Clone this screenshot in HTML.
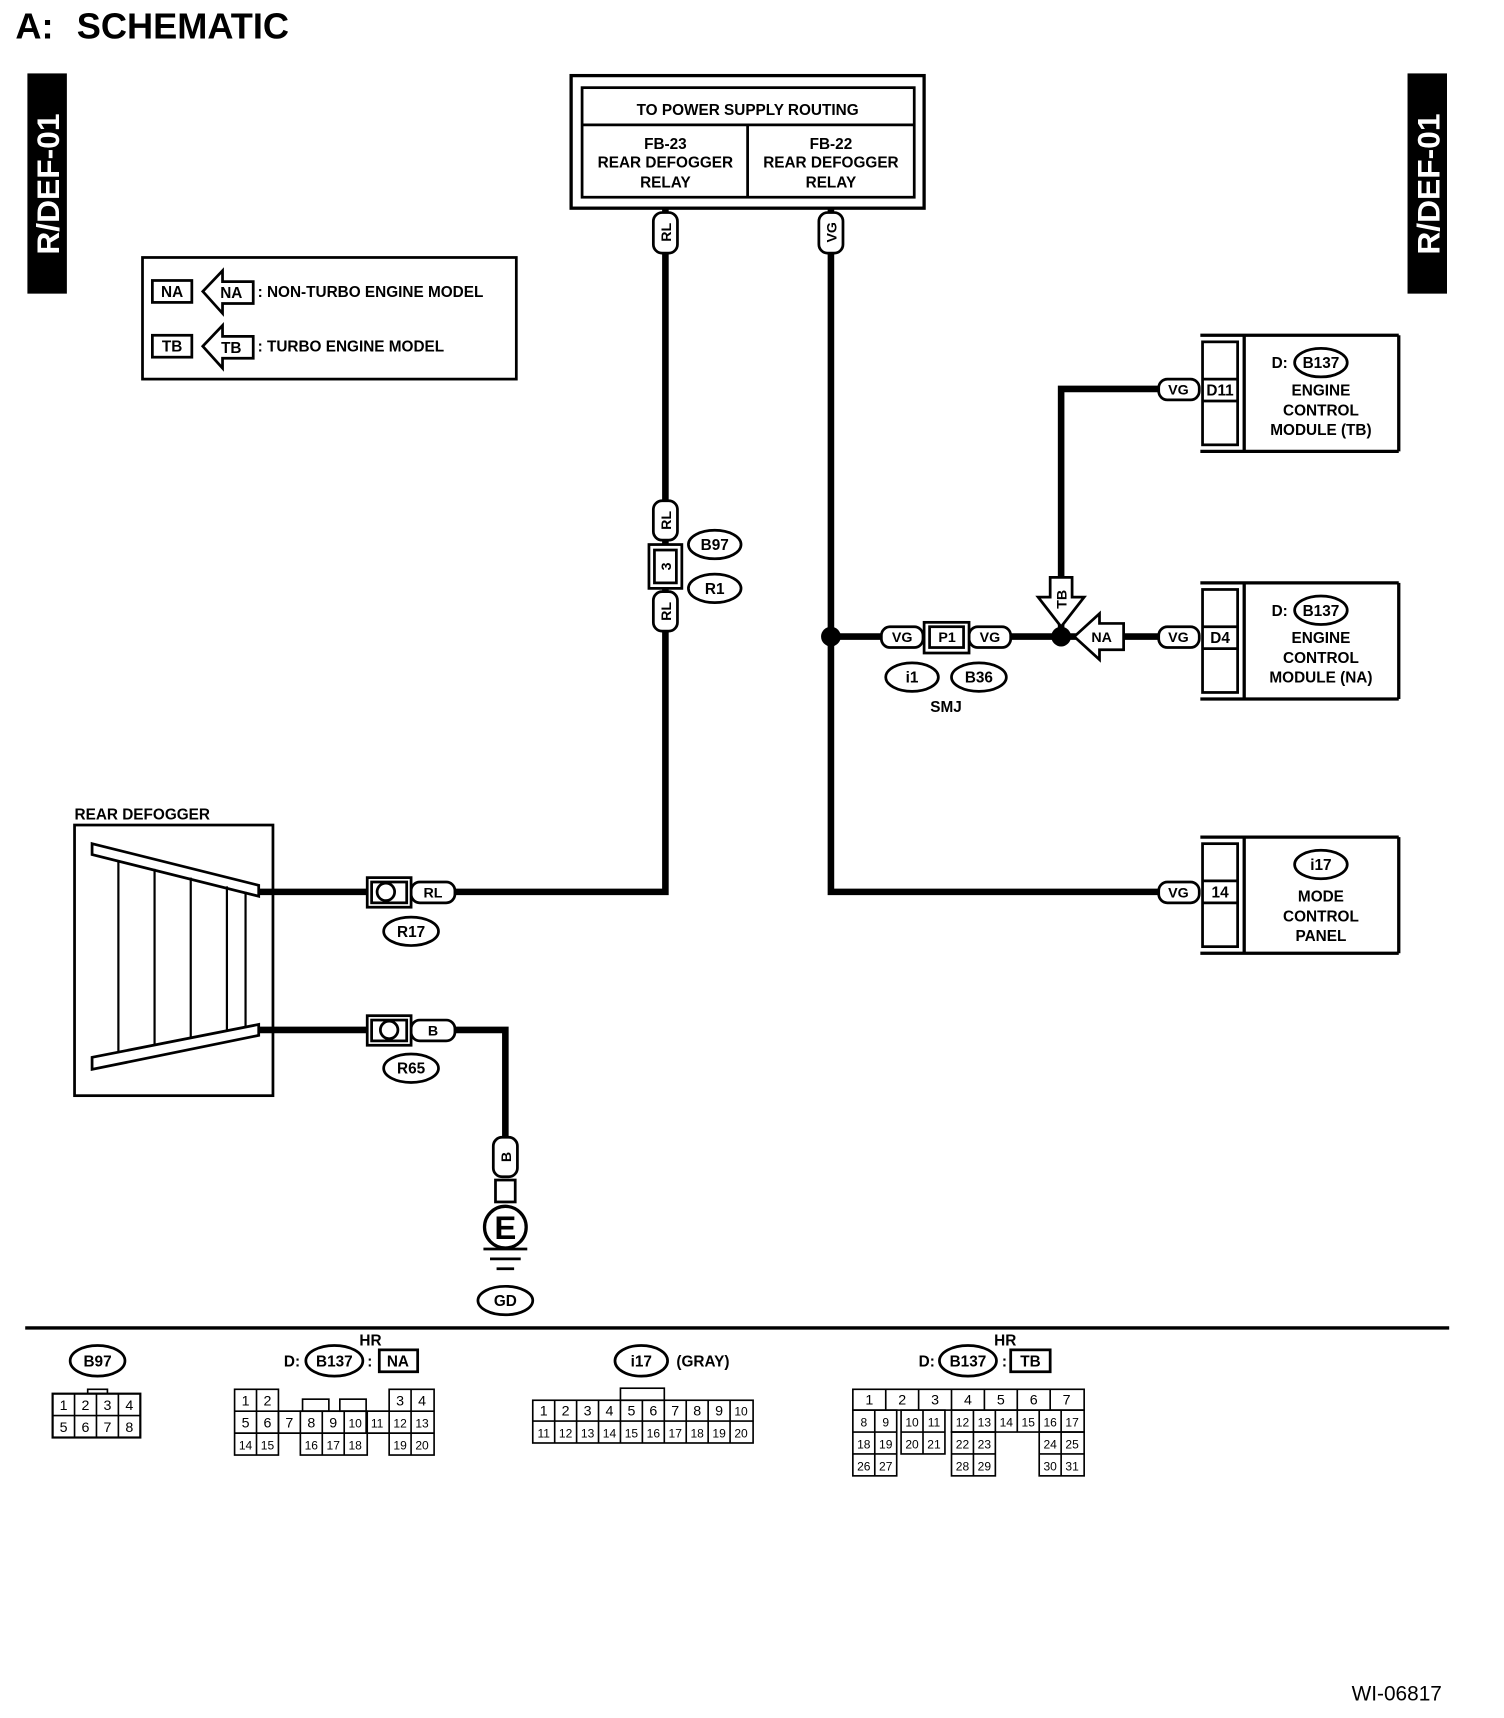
<!DOCTYPE html>
<html><head><style>html,body{margin:0;padding:0;background:#fff}svg{display:block}</style></head>
<body>
<svg xmlns="http://www.w3.org/2000/svg" width="1504" height="1718" viewBox="0 0 1372 1568" preserveAspectRatio="none" font-family="Liberation Sans, Arial, sans-serif" font-weight="bold">
<g fill="none" stroke="#000">
<polyline points="607,190 607,814 415,814" stroke-width="6"/>
<polyline points="758,190 758,814 1057,814" stroke-width="6"/>
<line x1="758" y1="581" x2="1057" y2="581" stroke-width="6"/>
<polyline points="968,581 968,355 1057,355" stroke-width="6"/>
<line x1="236" y1="814" x2="335" y2="814" stroke-width="6"/>
<polyline points="236,940 335,940" stroke-width="6"/>
<polyline points="415,940 461,940 461,1040" stroke-width="6"/>
<line x1="23" y1="1212" x2="1322" y2="1212" stroke-width="3"/>
</g>
<text x="14" y="35" font-size="33">A:</text>
<text x="70" y="35" font-size="33">SCHEMATIC</text>
<rect x="25" y="67" width="36" height="201" fill="#000"/>
<text transform="translate(54,168) rotate(-90)" fill="#fff" font-size="29" text-anchor="middle">R/DEF-01</text>
<rect x="1284" y="67" width="36" height="201" fill="#000"/>
<text transform="translate(1313,168) rotate(-90)" fill="#fff" font-size="29" text-anchor="middle">R/DEF-01</text>

<g fill="none" stroke="#000" stroke-width="2.5">
<rect x="521" y="69" width="322" height="121" stroke-width="3"/>
<rect x="531" y="80" width="303" height="100"/>
<line x1="531" y1="114" x2="834" y2="114"/>
<line x1="682" y1="114" x2="682" y2="180"/>
<rect x="130" y="235" width="341" height="111"/>
<rect x="139" y="256" width="36" height="20"/>
<rect x="139" y="306" width="36" height="20"/>
<path d="M185,266 L203,247 L203,257 L231,257 L231,277 L203,277 L203,286 Z"/>
<path d="M185,316 L203,297 L203,307 L231,307 L231,327 L203,327 L203,336 Z"/>
</g>
<g font-size="14" text-anchor="middle">
<text x="682" y="105">TO POWER SUPPLY ROUTING</text>
<text x="607" y="136">FB-23</text><text x="607" y="153">REAR DEFOGGER</text><text x="607" y="171">RELAY</text>
<text x="758" y="136">FB-22</text><text x="758" y="153">REAR DEFOGGER</text><text x="758" y="171">RELAY</text>
<text x="157" y="271">NA</text><text x="211" y="272">NA</text>
<text x="157" y="321">TB</text><text x="211" y="322">TB</text>
</g>
<g font-size="14">
<text x="235" y="271">: NON-TURBO ENGINE MODEL</text>
<text x="235" y="321">: TURBO ENGINE MODEL</text>
<text x="68" y="748">REAR DEFOGGER</text>
</g>

<g fill="#fff" stroke="#000" stroke-width="2.5">
<rect x="596" y="194" width="22" height="37" rx="8"/>
<rect x="747" y="194" width="22" height="37" rx="8"/>
<rect x="596" y="457" width="22" height="36" rx="8"/>
<rect x="596" y="540" width="22" height="36" rx="8"/>
<rect x="592" y="497" width="30" height="40"/>
<rect x="597" y="502" width="20" height="30"/>
<rect x="450" y="1038" width="22" height="36" rx="8"/>
<rect x="452" y="1077" width="18" height="20"/>
<circle cx="461" cy="1120" r="19" stroke-width="3"/>
</g>
<g font-size="13" text-anchor="middle">
<text transform="translate(612,212) rotate(-90)">RL</text>
<text transform="translate(763,212) rotate(-90)">VG</text>
<text transform="translate(612,475) rotate(-90)">RL</text>
<text transform="translate(612,558) rotate(-90)">RL</text>
<text transform="translate(612,517) rotate(-90)">3</text>
<text transform="translate(466,1056) rotate(-90)">B</text>
</g>
<text x="461" y="1131" font-size="30" text-anchor="middle">E</text>
<g stroke="#000" stroke-width="2.5">
<line x1="441" y1="1140" x2="481" y2="1140"/>
<line x1="447" y1="1149" x2="475" y2="1149"/>
<line x1="453" y1="1158" x2="469" y2="1158"/>
</g>

<g fill="#fff" stroke="#000" stroke-width="2.5">
<ellipse cx="652" cy="497" rx="24" ry="13"/>
<ellipse cx="652" cy="537" rx="24" ry="13"/>
<ellipse cx="832" cy="618" rx="24" ry="13"/>
<ellipse cx="893" cy="618" rx="25" ry="13"/>
<ellipse cx="375" cy="850" rx="25" ry="13"/>
<ellipse cx="375" cy="975" rx="25" ry="13"/>
<ellipse cx="461" cy="1187" rx="25" ry="13"/>
<ellipse cx="1205" cy="331" rx="24" ry="13"/>
<ellipse cx="1205" cy="557" rx="24" ry="13"/>
<ellipse cx="1205" cy="789" rx="24" ry="13"/>
<ellipse cx="89" cy="1242" rx="25" ry="14"/>
<ellipse cx="305" cy="1242" rx="26" ry="14"/>
<ellipse cx="585" cy="1242" rx="24" ry="14"/>
<ellipse cx="883" cy="1242" rx="26" ry="14"/>
<rect x="346" y="1232" width="35" height="20"/>
<rect x="922" y="1232" width="36" height="20"/>
</g>
<g font-size="14" text-anchor="middle">
<text x="652" y="502">B97</text><text x="652" y="542">R1</text>
<text x="832" y="623">i1</text><text x="893" y="623">B36</text>
<text x="863" y="650">SMJ</text>
<text x="375" y="855">R17</text><text x="375" y="980">R65</text>
<text x="461" y="1192">GD</text>
<text x="1205" y="336">B137</text><text x="1205" y="562">B137</text><text x="1205" y="794">i17</text>
<text x="89" y="1247">B97</text><text x="305" y="1247">B137</text><text x="585" y="1247">i17</text><text x="883" y="1247">B137</text>
<text x="363" y="1247">NA</text><text x="940" y="1247">TB</text>
<text x="338" y="1228">HR</text><text x="917" y="1228">HR</text>
</g>
<g font-size="14">
<text x="259" y="1247">D:</text><text x="335" y="1247">:</text>
<text x="838" y="1247">D:</text><text x="914" y="1247">:</text>
<text x="617" y="1247">(GRAY)</text>
<text x="1160" y="336">D:</text><text x="1160" y="562">D:</text>
<text x="1233" y="1552" font-weight="normal" font-size="19">WI-06817</text>
</g>

<g fill="#fff" stroke="#000" stroke-width="2.5">
<rect x="804" y="572" width="38" height="19" rx="8"/>
<rect x="884" y="572" width="38" height="19" rx="8"/>
<rect x="843" y="568" width="41" height="28"/>
<rect x="848" y="572" width="31" height="19"/>
<rect x="1057" y="346" width="37" height="19" rx="8"/>
<rect x="1057" y="572" width="37" height="19" rx="8"/>
<rect x="1057" y="805" width="37" height="19" rx="8"/>
<rect x="375" y="805" width="40" height="19" rx="8"/>
<rect x="375" y="931" width="40" height="19" rx="8"/>
<rect x="335" y="801" width="40" height="27"/>
<rect x="339" y="805" width="32" height="19"/>
<circle cx="352" cy="814" r="8"/>
<rect x="335" y="927" width="40" height="27"/>
<rect x="339" y="931" width="32" height="19"/>
<circle cx="355" cy="940" r="8"/>
</g>
<circle cx="758" cy="581" r="9"/>
<circle cx="968" cy="581" r="9"/>
<g fill="#fff" stroke="#000" stroke-width="2.5">
<path d="M958,527 L978,527 L978,545 L989,545 L968,572 L947,545 L958,545 Z"/>
<path d="M980,581 L1003,560 L1003,569 L1025,569 L1025,593 L1003,593 L1003,602 Z"/>
</g>
<g font-size="13" text-anchor="middle">
<text x="823" y="586">VG</text><text x="903" y="586">VG</text><text x="864" y="586">P1</text>
<text x="1075" y="360">VG</text><text x="1075" y="586">VG</text><text x="1075" y="819">VG</text>
<text x="395" y="819">RL</text><text x="395" y="945">B</text>
<text x="1005" y="586">NA</text>
<text transform="translate(973,547) rotate(-90)">TB</text>
</g>

<g fill="none" stroke="#000" stroke-width="2.5">
<g id="m1">
<line x1="1095" y1="306" x2="1276" y2="306" stroke-width="3"/>
<line x1="1095" y1="412" x2="1276" y2="412" stroke-width="3"/>
<line x1="1276" y1="306" x2="1276" y2="412" stroke-width="3"/>
<line x1="1135" y1="306" x2="1135" y2="412" stroke-width="3"/>
<rect x="1097" y="312" width="32" height="94"/>
<line x1="1097" y1="346" x2="1129" y2="346"/>
<line x1="1097" y1="366" x2="1129" y2="366"/>
</g>
<use href="#m1" y="226"/>
<use href="#m1" y="458"/>
</g>
<g font-size="14" text-anchor="middle">
<text x="1113" y="361">D11</text><text x="1113" y="587">D4</text><text x="1113" y="819">14</text>
<text x="1205" y="361">ENGINE</text><text x="1205" y="379">CONTROL</text><text x="1205" y="397">MODULE (TB)</text>
<text x="1205" y="587">ENGINE</text><text x="1205" y="605">CONTROL</text><text x="1205" y="623">MODULE (NA)</text>
<text x="1205" y="823">MODE</text><text x="1205" y="841">CONTROL</text><text x="1205" y="859">PANEL</text>
</g>

<g fill="none" stroke="#000" stroke-width="2.5">
<rect x="68" y="753" width="181" height="247"/>
<path d="M84,770 L236,808 L236,818 L84,780 Z" fill="#fff"/>
<path d="M84,965 L236,935 L236,945 L84,976 Z" fill="#fff"/>
<g stroke-width="2">
<line x1="108" y1="785" x2="108" y2="961"/>
<line x1="141" y1="793" x2="141" y2="954"/>
<line x1="174" y1="801" x2="174" y2="948"/>
<line x1="207" y1="809" x2="207" y2="941"/>
<line x1="224" y1="814" x2="224" y2="938"/>
</g>
</g>

<g fill="none" stroke="#000" stroke-width="1.5">
<rect x="48" y="1272" width="80" height="40" stroke-width="2"/>
<line x1="48" y1="1292" x2="128" y2="1292"/>
<line x1="68" y1="1272" x2="68" y2="1312"/><line x1="88" y1="1272" x2="88" y2="1312"/><line x1="108" y1="1272" x2="108" y2="1312"/>
<rect x="80" y="1268" width="18" height="4"/>
<rect x="214" y="1268" width="40" height="60"/>
<line x1="214" y1="1288" x2="396" y2="1288"/><line x1="214" y1="1308" x2="396" y2="1308"/>
<line x1="234" y1="1268" x2="234" y2="1328"/>
<line x1="254" y1="1288" x2="254" y2="1308"/>
<rect x="355" y="1268" width="41" height="60"/>
<line x1="375" y1="1268" x2="375" y2="1328"/>
<line x1="254" y1="1288" x2="355" y2="1288"/>
<rect x="274" y="1288" width="61" height="40"/>
<line x1="294" y1="1288" x2="294" y2="1328"/><line x1="314" y1="1288" x2="314" y2="1328"/>
<line x1="334" y1="1288" x2="334" y2="1308"/>
<rect x="276" y="1277" width="24" height="11"/><rect x="310" y="1277" width="24" height="11"/>
<rect x="486" y="1278" width="201" height="39"/>
<line x1="486" y1="1297" x2="687" y2="1297"/>
<line x1="506" y1="1278" x2="506" y2="1317"/><line x1="526" y1="1278" x2="526" y2="1317"/><line x1="546" y1="1278" x2="546" y2="1317"/><line x1="566" y1="1278" x2="566" y2="1317"/><line x1="586" y1="1278" x2="586" y2="1317"/><line x1="606" y1="1278" x2="606" y2="1317"/><line x1="626" y1="1278" x2="626" y2="1317"/><line x1="646" y1="1278" x2="646" y2="1317"/><line x1="666" y1="1278" x2="666" y2="1317"/>
<rect x="566" y="1267" width="40" height="11"/>
<rect x="778" y="1268" width="211" height="19"/>
<line x1="808" y1="1268" x2="808" y2="1287"/><line x1="838" y1="1268" x2="838" y2="1287"/><line x1="868" y1="1268" x2="868" y2="1287"/><line x1="898" y1="1268" x2="898" y2="1287"/><line x1="928" y1="1268" x2="928" y2="1287"/><line x1="958" y1="1268" x2="958" y2="1287"/>
<rect x="778" y="1287" width="40" height="60"/><line x1="798" y1="1287" x2="798" y2="1347"/><line x1="778" y1="1307" x2="818" y2="1307"/><line x1="778" y1="1327" x2="818" y2="1327"/>
<rect x="822" y="1287" width="40" height="40"/><line x1="842" y1="1287" x2="842" y2="1327"/><line x1="822" y1="1307" x2="862" y2="1307"/>
<rect x="868" y="1287" width="121" height="20"/>
<line x1="888" y1="1287" x2="888" y2="1307"/><line x1="908" y1="1287" x2="908" y2="1307"/><line x1="928" y1="1287" x2="928" y2="1307"/><line x1="948" y1="1287" x2="948" y2="1307"/><line x1="968" y1="1287" x2="968" y2="1307"/>
<rect x="868" y="1307" width="40" height="40"/><line x1="888" y1="1307" x2="888" y2="1347"/><line x1="868" y1="1327" x2="908" y2="1327"/>
<rect x="948" y="1307" width="41" height="40"/><line x1="968" y1="1307" x2="968" y2="1347"/><line x1="948" y1="1327" x2="989" y2="1327"/>
</g>
<g font-size="13" font-weight="normal" text-anchor="middle">
<text x="58" y="1287">1</text><text x="78" y="1287">2</text><text x="98" y="1287">3</text><text x="118" y="1287">4</text>
<text x="58" y="1307">5</text><text x="78" y="1307">6</text><text x="98" y="1307">7</text><text x="118" y="1307">8</text>
<text x="224" y="1283">1</text><text x="244" y="1283">2</text><text x="365" y="1283">3</text><text x="385" y="1283">4</text>
<text x="224" y="1303">5</text><text x="244" y="1303">6</text><text x="264" y="1303">7</text><text x="284" y="1303">8</text><text x="304" y="1303">9</text><text x="324" y="1303" font-size="11">10</text><text x="344" y="1303" font-size="11">11</text><text x="365" y="1303" font-size="11">12</text><text x="385" y="1303" font-size="11">13</text>
<g font-size="11"><text x="224" y="1323">14</text><text x="244" y="1323">15</text><text x="284" y="1323">16</text><text x="304" y="1323">17</text><text x="324" y="1323">18</text><text x="365" y="1323">19</text><text x="385" y="1323">20</text></g>
<text x="496" y="1292">1</text><text x="516" y="1292">2</text><text x="536" y="1292">3</text><text x="556" y="1292">4</text><text x="576" y="1292">5</text><text x="596" y="1292">6</text><text x="616" y="1292">7</text><text x="636" y="1292">8</text><text x="656" y="1292">9</text><text x="676" y="1292" font-size="11">10</text>
<g font-size="11"><text x="496" y="1312">11</text><text x="516" y="1312">12</text><text x="536" y="1312">13</text><text x="556" y="1312">14</text><text x="576" y="1312">15</text><text x="596" y="1312">16</text><text x="616" y="1312">17</text><text x="636" y="1312">18</text><text x="656" y="1312">19</text><text x="676" y="1312">20</text></g>
<text x="793" y="1282">1</text><text x="823" y="1282">2</text><text x="853" y="1282">3</text><text x="883" y="1282">4</text><text x="913" y="1282">5</text><text x="943" y="1282">6</text><text x="973" y="1282">7</text>
<g font-size="11"><text x="788" y="1302">8</text><text x="808" y="1302">9</text><text x="832" y="1302">10</text><text x="852" y="1302">11</text><text x="878" y="1302">12</text><text x="898" y="1302">13</text><text x="918" y="1302">14</text><text x="938" y="1302">15</text><text x="958" y="1302">16</text><text x="978" y="1302">17</text>
<text x="788" y="1322">18</text><text x="808" y="1322">19</text><text x="832" y="1322">20</text><text x="852" y="1322">21</text><text x="878" y="1322">22</text><text x="898" y="1322">23</text><text x="958" y="1322">24</text><text x="978" y="1322">25</text>
<text x="788" y="1342">26</text><text x="808" y="1342">27</text><text x="878" y="1342">28</text><text x="898" y="1342">29</text><text x="958" y="1342">30</text><text x="978" y="1342">31</text></g>
</g>
</svg>
</body></html>
